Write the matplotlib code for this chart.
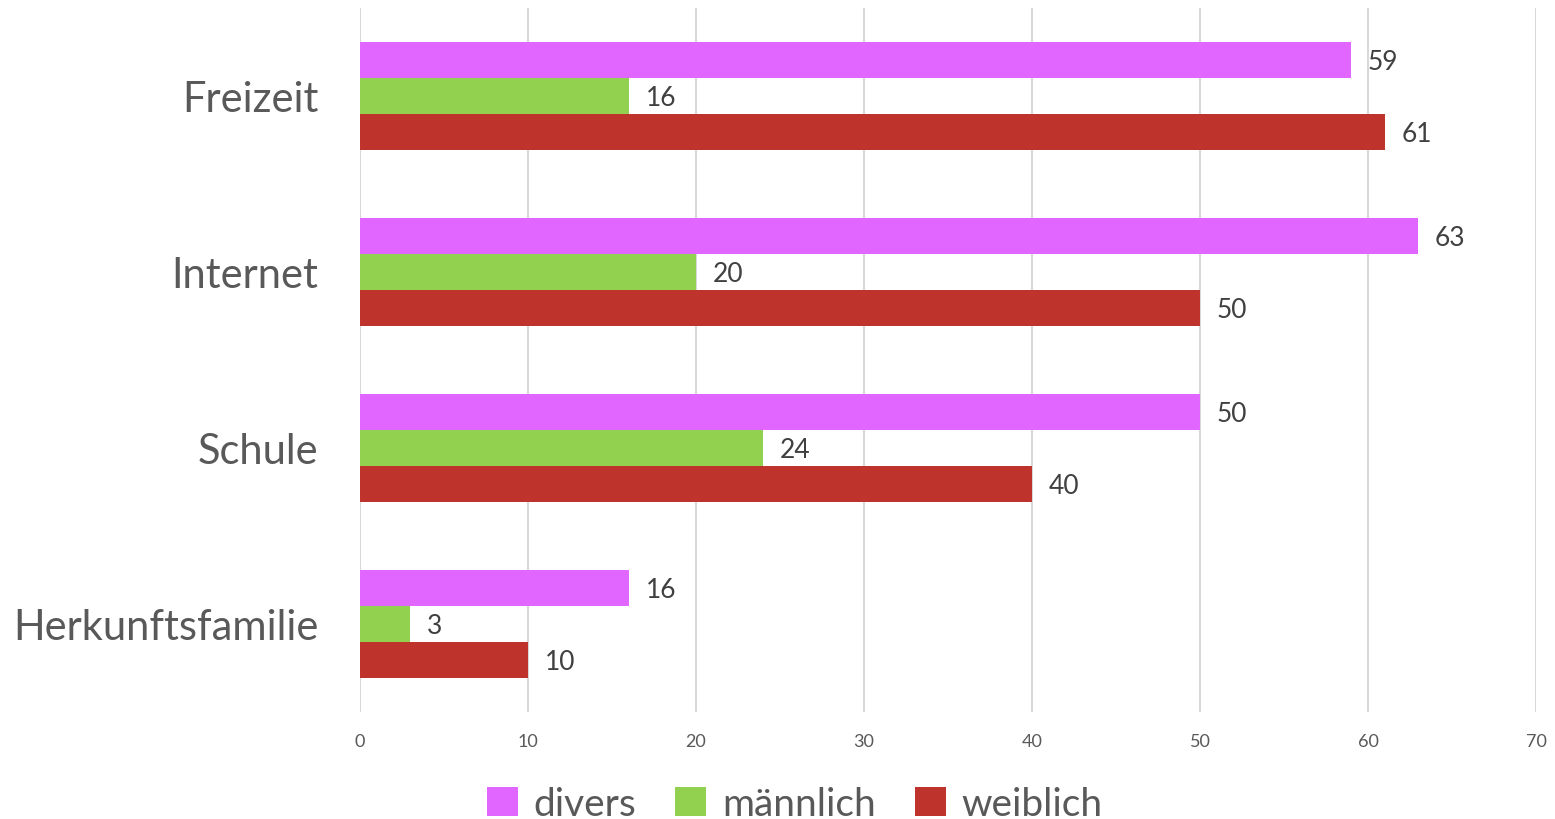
import matplotlib
matplotlib.use("Agg")
import matplotlib.pyplot as plt
import numpy as np

plt.rcParams['font.family'] = ['Lato', 'DejaVu Sans']

categories = ["Freizeit", "Internet", "Schule", "Herkunftsfamilie"]
series_names = ["divers", "männlich", "weiblich"]
divers = [59, 63, 50, 16]
maennlich = [16, 20, 24, 3]
weiblich = [61, 50, 40, 10]
xticks = [0, 10, 20, 30, 40, 50, 60, 70]

colors = ["#E066FF", "#92D050", "#BE332C"]

fig = plt.figure(figsize=(15.55, 8.2), dpi=100)
ax = fig.add_axes([360/1555, 1-713/820, (1536-360)/1555, 704/820])

y = np.arange(len(categories))
h = 36/176
offsets = [-h, 0, h]
for vals, off, col, name in zip([divers, maennlich, weiblich], offsets, colors, series_names):
    bars = ax.barh(y + off, vals, height=h, color=col, label=name, zorder=3)
    for b, v in zip(bars, vals):
        ax.annotate(str(v), (v, b.get_y() + b.get_height()/2), xytext=(12, -1),
                    textcoords="offset points", va="center", ha="left",
                    fontsize=19, color="#404040")

ax.set_ylim(3.5, -0.5)
ax.set_xlim(0, 70)
ax.set_xticks(xticks)
ax.set_xticklabels([str(t) for t in xticks], fontsize=13, color="#595959")
ax.set_yticks(y)
ax.set_yticklabels(categories, fontsize=30, color="#595959")
ax.tick_params(axis='y', length=0, pad=30)
ax.tick_params(axis='x', length=0, pad=15)
ax.grid(axis='x', color="#D9D9D9", linewidth=1.5, zorder=0)
for s in ax.spines.values():
    s.set_visible(False)

handles, labels = ax.get_legend_handles_labels()
leg = fig.legend(handles, labels, loc="center", bbox_to_anchor=(0.511, 1-805/820), ncol=3,
                 frameon=False, fontsize=28, handlelength=0.8, handleheight=0.8,
                 handletextpad=0.4, columnspacing=1.0)
for t in leg.get_texts():
    t.set_color("#595959")

fig.savefig("out.png", dpi=100)
